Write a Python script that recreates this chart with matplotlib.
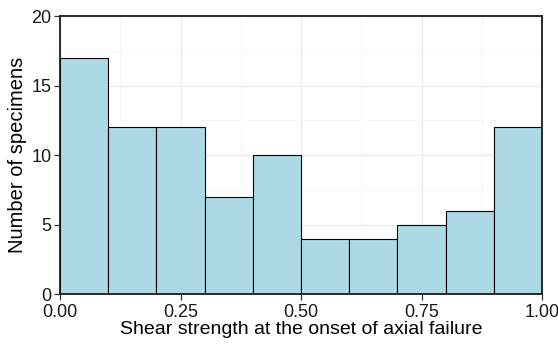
import matplotlib
matplotlib.use("Agg")
import matplotlib.pyplot as plt
import numpy as np

plt.rcParams['font.family'] = ['Liberation Sans', 'DejaVu Sans']

# histogram bins and counts
bin_edges = [0.0, 0.1, 0.2, 0.3, 0.4, 0.5, 0.6, 0.7, 0.8, 0.9, 1.0]
counts = [17, 12, 12, 7, 10, 4, 4, 5, 6, 12]
x_ticks = [0.0, 0.25, 0.5, 0.75, 1.0]
x_labels = ["0.00", "0.25", "0.50", "0.75", "1.00"]
y_ticks = [0, 5, 10, 15, 20]

fig = plt.figure(figsize=(5.58, 3.44), dpi=100)
ax = fig.add_axes([0.1075, 0.145, 0.864, 0.808])

edges = np.array(bin_edges)
ax.bar(edges[:-1], counts, width=np.diff(edges), align='edge',
       color='#add8e6', edgecolor='black', linewidth=0.8, zorder=3)

ax.set_xlim(0, 1)
ax.set_ylim(0, 20)
ax.set_xticks(x_ticks)
ax.set_xticklabels(x_labels)
ax.set_yticks(y_ticks)
ax.set_xticks([0.125, 0.375, 0.625, 0.875], minor=True)
ax.set_yticks([2.5, 7.5, 12.5, 17.5], minor=True)
ax.grid(which='major', color='#ebebeb', linewidth=0.9, zorder=0)
ax.grid(which='minor', color='#f5f5f5', linewidth=0.6, zorder=0)
ax.tick_params(which='minor', length=0)
ax.tick_params(which='major', length=4, width=0.9, color='#333333',
               labelsize=13, labelcolor='#1a1a1a', pad=2)
ax.tick_params(axis='x', pad=3)

for s in ax.spines.values():
    s.set_color('#1a1a1a')
    s.set_linewidth(1.3)
    s.set_zorder(4)

ax.set_xlabel('Shear strength at the onset of axial failure', fontsize=14, labelpad=0)
ax.set_ylabel('Number of specimens', fontsize=14.5, labelpad=3)

fig.savefig('out.png', dpi=100)
